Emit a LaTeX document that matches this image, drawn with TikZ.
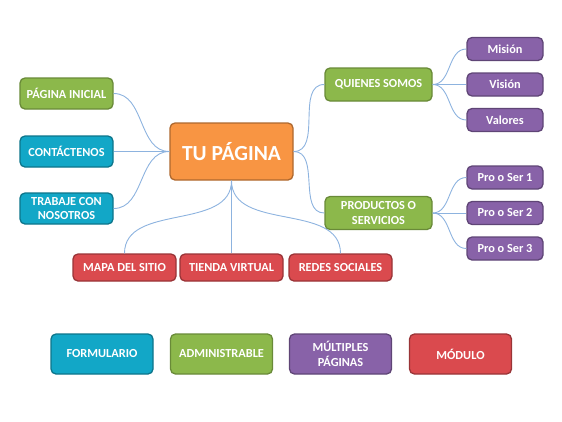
\documentclass[tikz,border=0pt]{standalone}
\usepackage{fontspec}
\setmainfont{Carlito}
\definecolor{mapgreen}{HTML}{8CB84B}
\definecolor{mapteal}{HTML}{12A7C7}
\definecolor{mappurple}{HTML}{8862A8}
\definecolor{mapred}{HTML}{DA4A4E}
\definecolor{maporange}{HTML}{F89543}
\definecolor{maplink}{HTML}{8DB3DF}
\begin{document}
\begin{tikzpicture}[
  x=1pt,
  y=-1pt,
  font=\fontsize{12.3}{14.5}\selectfont\bfseries,
  box/.style={
    rectangle,
    rounded corners=5pt,
    line width=1.3pt,
    text=white,
    align=center,
    inner sep=0pt
  },
  greenbox/.style={box, fill=mapgreen, draw=mapgreen!75!black},
  tealbox/.style={box, fill=mapteal, draw=mapteal!70!black},
  purplebox/.style={box, fill=mappurple, draw=mappurple!70!black},
  redbox/.style={box, fill=mapred, draw=mapred!70!black},
  hubbox/.style={
    box,
    fill=maporange,
    draw=maporange!70!black,
    font=\fontsize{21.5}{24}\selectfont\bfseries,
    minimum width=123pt,
    minimum height=57pt
  },
  branch/.style={minimum width=93pt, minimum height=31pt},
  mainitem/.style={minimum width=107pt, minimum height=33pt},
  subitem/.style={minimum width=76pt, minimum height=23pt},
  bottomitem/.style={minimum width=103pt, minimum height=27pt},
  legenditem/.style={minimum width=102pt, minimum height=40pt},
  link/.style={draw=maplink, line width=0.9pt}
]
\useasboundingbox (0,0) rectangle (562,421);

% ---------------------------------------------------------------------------
% Central topic
% ---------------------------------------------------------------------------
\node[hubbox] (hub) at (231.5,151.5) {TU PÁGINA};

% ---------------------------------------------------------------------------
% Left branches
% ---------------------------------------------------------------------------
\node[greenbox, branch] (inicial) at (66.5,93.5) {PÁGINA INICIAL};
\node[tealbox, branch] (contacto) at (66.5,151.5) {CONTÁCTENOS};
\node[tealbox, branch] (trabaje) at (66.5,208.5) {TRABAJE CON\\NOSOTROS};

% ---------------------------------------------------------------------------
% Right branches and their sub-items
% ---------------------------------------------------------------------------
\node[greenbox, mainitem] (quienes) at (378.5,84.5) {QUIENES SOMOS};
\node[greenbox, mainitem] (productos) at (378.5,213) {PRODUCTOS O\\SERVICIOS};

\node[purplebox, subitem] (mision) at (505,49) {Misión};
\node[purplebox, subitem] (vision) at (505,84.5) {Visión};
\node[purplebox, subitem] (valores) at (505,120) {Valores};
\node[purplebox, subitem] (proa) at (505,177.5) {Pro o Ser 1};
\node[purplebox, subitem] (prob) at (505,213) {Pro o Ser 2};
\node[purplebox, subitem] (proc) at (505,248.5) {Pro o Ser 3};

% ---------------------------------------------------------------------------
% Bottom branches
% ---------------------------------------------------------------------------
\node[redbox, bottomitem] (mapa) at (124.5,267.5) {MAPA DEL SITIO};
\node[redbox, bottomitem] (tienda) at (231.5,267.5) {TIENDA VIRTUAL};
\node[redbox, bottomitem] (redes) at (340.5,267.5) {REDES SOCIALES};

% ---------------------------------------------------------------------------
% Connectors
% ---------------------------------------------------------------------------
\draw[link] (hub.west) to[out=180, in=0] (inicial.east);
\draw[link] (hub.west) -- (contacto.east);
\draw[link] (hub.west) to[out=180, in=0] (trabaje.east);
\draw[link] (hub.east) to[out=0, in=180] (quienes.west);
\draw[link] (hub.east) to[out=0, in=180] (productos.west);
\draw[link] (hub.south) to[out=-90, in=90] (mapa.north);
\draw[link] (hub.south) -- (tienda.north);
\draw[link] (hub.south) to[out=-90, in=90] (redes.north);

\draw[link] (quienes.east) to[out=0, in=180] (mision.west);
\draw[link] (quienes.east) -- (vision.west);
\draw[link] (quienes.east) to[out=0, in=180] (valores.west);
\draw[link] (productos.east) to[out=0, in=180] (proa.west);
\draw[link] (productos.east) -- (prob.west);
\draw[link] (productos.east) to[out=0, in=180] (proc.west);

% Legend row.
\node[tealbox, legenditem] (formulario) at (102,354) {FORMULARIO};
\node[greenbox, legenditem] (admin) at (221.5,354) {ADMINISTRABLE};
\node[purplebox, legenditem] (multiples) at (340.5,354) {MÚLTIPLES\\PÁGINAS};
\node[redbox, legenditem] (modulo) at (460.5,354) {MÓDULO};

\end{tikzpicture}
\end{document}
